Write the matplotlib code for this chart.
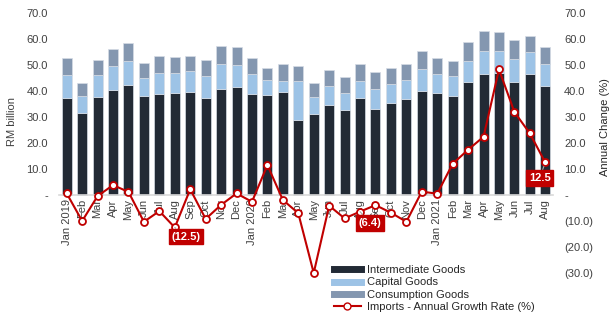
import numpy as np
import matplotlib
matplotlib.use("Agg")
import matplotlib.pyplot as plt
from matplotlib.lines import Line2D

plt.rcParams['font.family'] = ['Liberation Sans', 'DejaVu Sans']

months = ["Jan 2019", "Feb", "Mar", "Apr", "May", "Jun", "Jul", "Aug", "Sep", "Oct", "Nov", "Dec",
          "Jan 2020", "Feb", "Mar", "Apr", "May", "Jun", "Jul", "Aug", "Sep", "Oct", "Nov", "Dec",
          "Jan 2021", "Feb", "Mar", "Apr", "May", "Jun", "Jul", "Aug"]

# RM billion
intermediate = [37.2, 31.7, 37.7, 40.4, 42.4, 38.1, 38.7, 39.1, 39.7, 37.2, 40.9, 41.7,
                38.7, 38.5, 39.5, 29.0, 31.0, 34.7, 32.6, 37.2, 33.1, 35.5, 37.0, 39.9,
                39.1, 38.2, 43.3, 46.4, 46.8, 43.6, 46.5, 42.0]
capital = [9.0, 6.5, 8.3, 9.1, 9.3, 7.0, 8.3, 7.7, 7.9, 8.7, 9.6, 8.4,
           7.8, 5.6, 4.3, 14.8, 6.8, 7.3, 6.6, 6.6, 7.5, 7.1, 7.1, 8.6,
           7.4, 7.6, 8.2, 9.1, 8.7, 8.6, 8.4, 8.5]
consumption = [6.6, 4.8, 5.9, 6.5, 6.6, 5.5, 6.5, 6.4, 5.9, 6.0, 6.8, 6.9,
               6.3, 4.9, 6.5, 6.0, 5.2, 6.2, 6.3, 6.7, 6.6, 6.4, 6.4, 7.0,
               6.3, 5.9, 7.2, 7.6, 7.2, 7.3, 6.4, 6.3]

# annual growth rate, %
growth = [0.6, -10.0, -0.4, 3.8, 1.2, -10.3, -6.2, -12.5, 2.2, -9.2, -3.8, 0.6,
          -2.6, 11.5, -1.9, -7.0, -30.0, -4.1, -9.0, -6.4, -3.9, -6.8, -10.3, 1.3,
          0.5, 12.0, 17.4, 22.4, 48.3, 31.9, 23.7, 12.5]

labelled = [7, 19, 31]
label_offsets = [(8, -6.5), (7, -8), (-4, -11)]

c_int = "#222A35"
c_cap = "#9DC3E6"
c_con = "#8497B0"
c_red = "#C00000"

x = np.arange(len(months))
inter = np.array(intermediate)
cap = np.array(capital)
con = np.array(consumption)

fig = plt.figure(figsize=(6.16, 3.3), dpi=100)
ax = fig.add_axes([59 / 616, 1 - 299 / 330, 494 / 616, 286 / 330])
ax2 = ax.twinx()

w = 0.65
ax.bar(x, inter, w, color=c_int, edgecolor="#D6DCE5", linewidth=0.5)
ax.bar(x, cap, w, bottom=inter, color=c_cap, edgecolor="#D6DCE5", linewidth=0.5)
ax.bar(x, con, w, bottom=inter + cap, color=c_con, edgecolor="#D6DCE5", linewidth=0.5)

ax2.plot(x, growth, color=c_red, lw=1.5, marker="o", ms=5,
         markerfacecolor="white", markeredgecolor=c_red, markeredgewidth=1.3, zorder=3)

for i, off in zip(labelled, label_offsets):
    v = growth[i]
    txt = "(%.1f)" % abs(v) if v < 0 else "%.1f" % v
    ax2.annotate(txt, (x[i], v), xytext=off, textcoords="offset points",
                 ha="center", va="center", color="white", fontsize=8, fontweight="bold",
                 bbox=dict(boxstyle="square,pad=0.25", fc=c_red, ec=c_red),
                 arrowprops=dict(arrowstyle="-", color="#A6A6A6", lw=0.8, shrinkA=0, shrinkB=3),
                 zorder=5)

for a in (ax, ax2):
    a.set_ylim(-40, 70)
    a.set_xlim(-0.5, len(months) - 0.5)
    for s in a.spines.values():
        s.set_visible(False)

ax.spines["bottom"].set_visible(True)
ax.spines["bottom"].set_position(("data", 0))
ax.spines["bottom"].set_color("#D9D9D9")
ax.spines["bottom"].set_linewidth(1.2)

ax.set_xticks(x)
ax.set_xticklabels(months, rotation=90, fontsize=8, color="#404040")
ax.tick_params(axis="x", length=0, pad=3)

lt = np.arange(0, 71, 10)
ax.set_yticks(lt)
ax.set_yticklabels(["-" if t == 0 else "%.1f" % t for t in lt], fontsize=8, color="#404040")
ax.tick_params(axis="y", length=0, pad=8)

rt = np.arange(-30, 71, 10)
ax2.set_yticks(rt)
ax2.set_yticklabels(["-" if t == 0 else ("(%.1f)" % -t if t < 0 else "%.1f" % t) for t in rt],
                    fontsize=8, color="#404040")
ax2.tick_params(axis="y", length=0, pad=8)

ax.set_ylabel("RM billion", fontsize=8, color="#404040")
ax.yaxis.set_label_coords(-0.085, 0.62)
ax2.set_ylabel("Annual Change (%)", fontsize=8, color="#262626")
ax2.yaxis.set_label_coords(1.095, 0.6)

handles = [Line2D([], [], color=c_int, lw=5),
           Line2D([], [], color=c_cap, lw=5),
           Line2D([], [], color=c_con, lw=5),
           Line2D([], [], color=c_red, lw=1.5, marker="o", ms=5,
                  markerfacecolor="white", markeredgecolor=c_red)]
names = ["Intermediate Goods", "Capital Goods", "Consumption Goods",
         "Imports - Annual Growth Rate (%)"]
fig.legend(handles, names, loc="upper left", bbox_to_anchor=(334 / 616, 1 - 265 / 330),
           frameon=False, fontsize=8, handlelength=2.4, handletextpad=0.6,
           labelspacing=0.22, borderpad=0, borderaxespad=0, labelcolor="#262626")

fig.savefig("out.png", dpi=100)
